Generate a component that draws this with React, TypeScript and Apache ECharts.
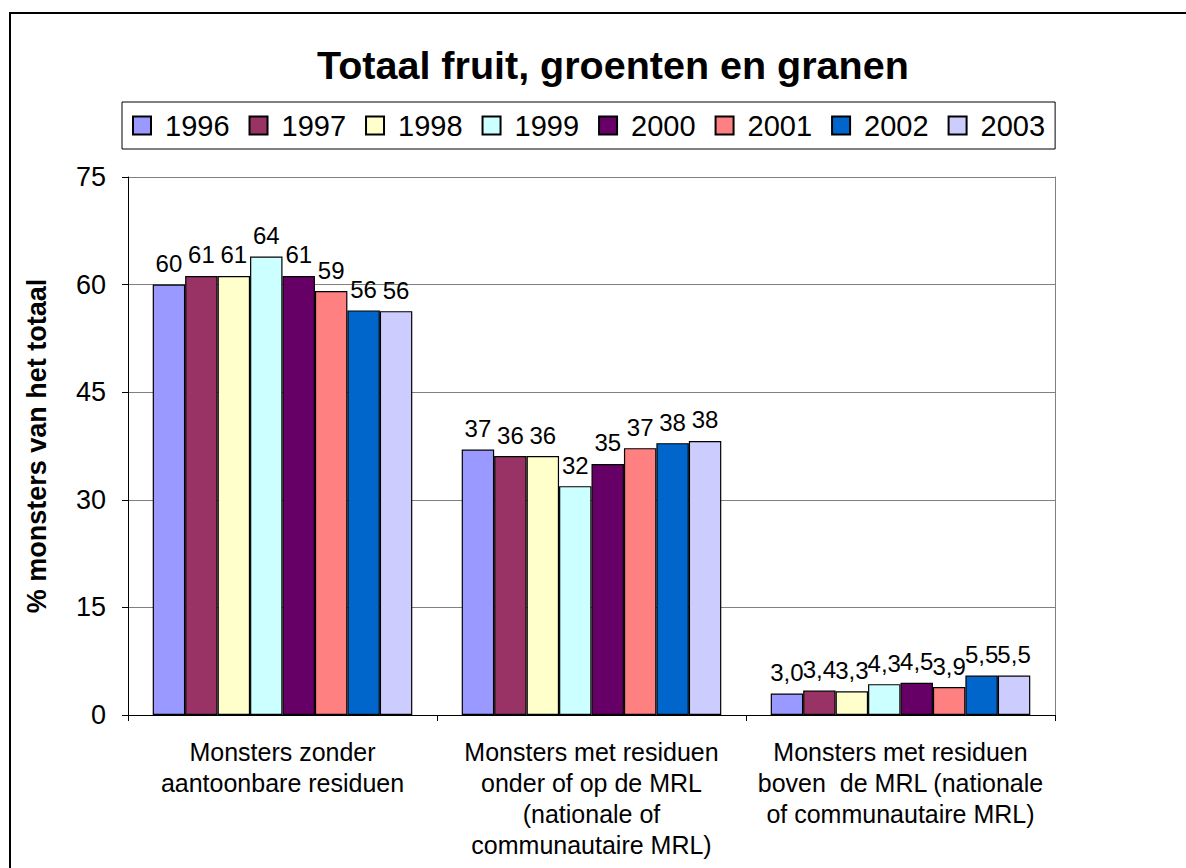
import React, { useEffect, useRef } from "react";
import * as echarts from "echarts";

const categories = [
  "Monsters zonder\naantoonbare residuen",
  "Monsters met residuen\nonder of op de MRL\n(nationale of\ncommunautaire MRL)",
  "Monsters met residuen\nboven  de MRL (nationale\nof communautaire MRL)",
];
const years = ["1996", "1997", "1998", "1999", "2000", "2001", "2002", "2003"];
const colors = ["#9999FF", "#993366", "#FFFFCC", "#CCFFFF", "#660066", "#FF8080", "#0066CC", "#CCCCFF"];
const v1996 = [60.0, 37.0, 3.0];
const v1997 = [61.2, 36.1, 3.4];
const v1998 = [61.2, 36.1, 3.3];
const v1999 = [63.9, 31.9, 4.3];
const v2000 = [61.2, 35.0, 4.5];
const v2001 = [59.1, 37.2, 3.9];
const v2002 = [56.4, 37.9, 5.5];
const v2003 = [56.3, 38.2, 5.5];
const seriesValues = [v1996, v1997, v1998, v1999, v2000, v2001, v2002, v2003];
const yTicks = { min: 0, max: 75, interval: 15 };

const FONT = "'Liberation Sans', Arial, sans-serif";

export default function App() {
  const ref = useRef<HTMLDivElement>(null);
  useEffect(() => {
    document.body.style.margin = "0";
    const chart = echarts.init(ref.current!, undefined, { renderer: "svg" });
    chart.setOption({
      animation: false,
      backgroundColor: "#fff",
      textStyle: { fontFamily: FONT },
      title: {
        text: "Totaal fruit, groenten en granen",
        left: 312,
        top: 40,
        textStyle: { fontSize: 39.5, fontWeight: "bold", color: "#000", fontFamily: FONT },
      },
      legend: {
        left: 122,
        top: 102,
        itemWidth: 18,
        itemHeight: 18,
        itemGap: 19,
        icon: "rect",
        borderColor: "#000",
        borderWidth: 1,
        padding: [9, 10, 9, 10],
        textStyle: { fontSize: 29, color: "#000", fontFamily: FONT, padding: [0, 0, 0, 9] },
        data: years,
      },
      graphic: [
        {
          type: "rect",
          shape: { x: 10, y: 13, width: 1300, height: 1000 },
          style: { fill: "none", stroke: "#000", lineWidth: 2 },
          silent: true,
          z: -10,
        },
      ],
      grid: { left: 128, right: 131, top: 177, bottom: 153 },
      xAxis: {
        type: "category",
        data: categories,
        axisLine: { lineStyle: { color: "#000", width: 1 } },
        axisTick: { show: true, length: 6, lineStyle: { color: "#000" } },
        axisLabel: {
          fontSize: 25,
          color: "#000",
          lineHeight: 31,
          margin: 21,
          interval: 0,
          fontFamily: FONT,
        },
      },
      yAxis: [
        {
          type: "value",
          min: yTicks.min,
          max: yTicks.max,
          interval: yTicks.interval,
          name: "% monsters van het totaal",
          nameLocation: "middle",
          nameGap: 78,
          nameTextStyle: { fontSize: 27, fontWeight: "bold", color: "#000", fontFamily: FONT },
          axisLine: { show: true, lineStyle: { color: "#000" } },
          axisTick: { show: true, length: 6, lineStyle: { color: "#000" } },
          axisLabel: { fontSize: 27, color: "#000", margin: 22, fontFamily: FONT },
          splitLine: { show: true, lineStyle: { color: "#808080", width: 1 } },
        },
        {
          type: "value",
          position: "right",
          min: yTicks.min,
          max: yTicks.max,
          interval: yTicks.interval,
          axisLine: { show: true, lineStyle: { color: "#808080" } },
          axisTick: { show: false },
          axisLabel: { show: false },
          splitLine: { show: false },
        },
      ],
      series: years.map((y, i) => ({
        name: y,
        type: "bar",
        data: seriesValues[i],
        barGap: "0%",
        barCategoryGap: "16%",
        itemStyle: { color: colors[i], borderColor: "#000", borderWidth: 1.2 },
        label: {
          show: true,
          position: "top",
          distance: 9,
          fontSize: 24,
          color: "#000",
          fontFamily: FONT,
          formatter: (p: any) =>
            p.value < 10 ? p.value.toFixed(1).replace(".", ",") : String(Math.round(p.value)),
        },
      })),
    });
    return () => chart.dispose();
  }, []);
  return <div ref={ref} style={{ width: 1186, height: 868 }} />;
}
